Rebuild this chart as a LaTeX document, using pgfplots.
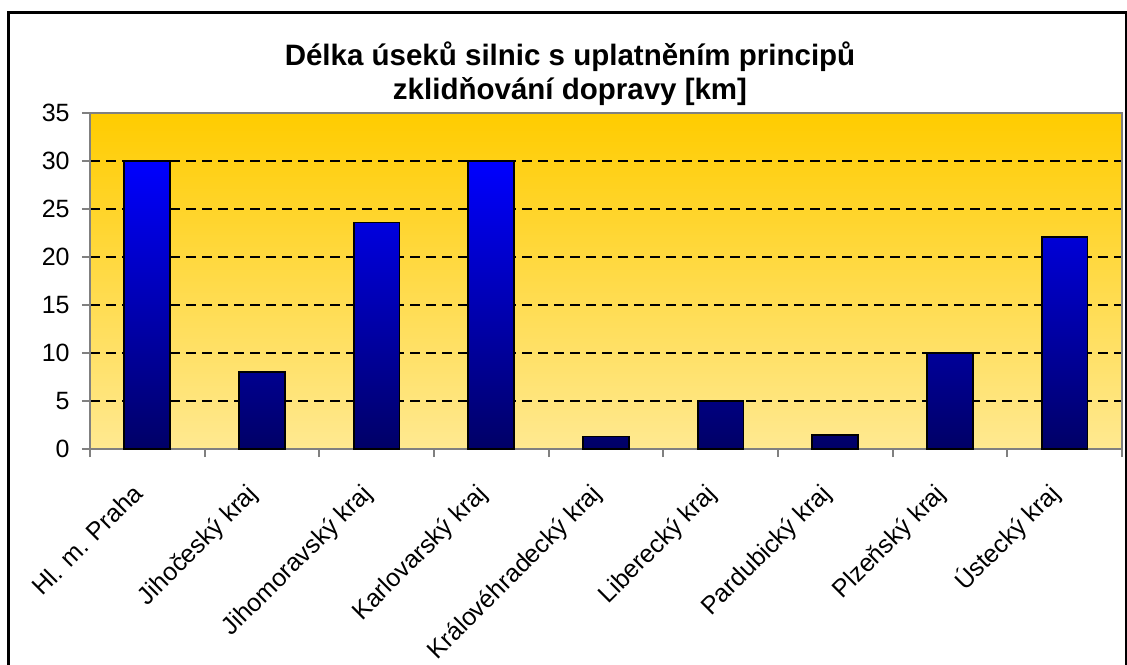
\documentclass[border=0pt]{standalone}
\usepackage{fontspec}
\setmainfont{Liberation Sans}
\usepackage{pgfplots}
\pgfplotsset{compat=1.18}
\definecolor{bgtop}{HTML}{FFCC00}
\definecolor{bgbot}{HTML}{FFE991}
\definecolor{bartop}{HTML}{0000FF}
\definecolor{barbot}{HTML}{000066}
\definecolor{axgray}{HTML}{808080}
\begin{document}
% 1 unit = 1 px of the 1127x664 reference; origin = lower left corner of the plot area
\begin{tikzpicture}[x=0.5pt,y=0.5pt]
\begin{axis}[
  scale only axis, width=516pt, height=168pt,
  xmin=-0.5, xmax=8.5, ymin=0, ymax=35,
  axis background/.style={top color=bgtop, bottom color=bgbot},
  axis line style={draw=axgray, line width=0.9pt},
  tick style={draw=axgray, line width=0.9pt},
  tick align=outside, major tick length=4pt, tick pos=left,
  /pgf/number format/assume math mode=true,
  xtick={-0.5,0.5,...,8.5}, xticklabels={},
  extra x ticks={0,1,...,8},
  extra x tick labels={Hl. m. Praha, Jihočeský kraj, Jihomoravský kraj,
    Karlovarský kraj, Královéhradecký kraj, Liberecký kraj,
    Pardubický kraj, Plzeňský kraj, Ústecký kraj},
  extra x tick style={major tick length=0pt, grid=none, tick style={draw=none}},
  x tick label style={yshift=-23pt, xshift=-1.5pt, rotate=45, anchor=base east, inner sep=0pt,
    font=\fontsize{12.5}{15}\selectfont},
  ytick={5,10,...,30},
  ymajorgrids,
  grid style={black, line width=0.6pt, dash pattern=on 5pt off 3pt},
  extra y ticks={0,35}, extra y tick labels={0,35},
  extra y tick style={grid=none},
  y tick label style={inner sep=0pt, xshift=-6pt, font=\fontsize{12.5}{15}\selectfont},
]
\addplot[ybar, bar width=0.4, draw=black, line width=0.9pt,
  top color=bartop, bottom color=barbot] coordinates {
  (0,30) (1,8) (2,23.6) (3,30) (4,1.3) (5,5) (6,1.5) (7,10) (8,22.1)
};
\coordinate (O) at (rel axis cs:0,0);
\end{axis}
\pgfresetboundingbox
\begin{scope}[shift={(O)}]
\path[use as bounding box] (-90,-215) rectangle (1037,449);
\draw[line width=1.5pt] (-81,-235) rectangle (1036,436);
\node[font=\bfseries\fontsize{14.75}{18}\selectfont, anchor=base] at (480,383)
  {Délka úseků silnic s uplatněním principů};
\node[font=\bfseries\fontsize{14.75}{18}\selectfont, anchor=base] at (480,349)
  {zklidňování dopravy [km]};
\end{scope}
\end{tikzpicture}
\end{document}
